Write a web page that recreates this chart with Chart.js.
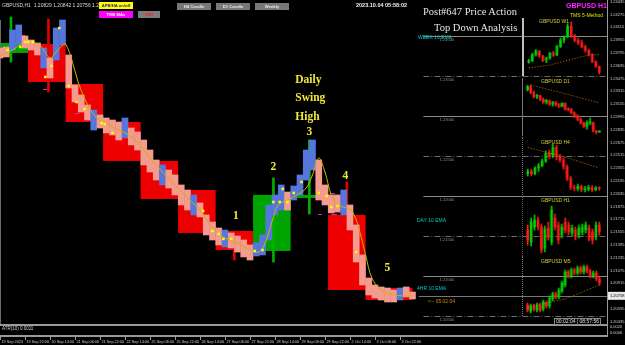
<!DOCTYPE html>
<html>
<head>
<meta charset="utf-8">
<script src="https://cdn.jsdelivr.net/npm/chart.js@4.4.0/dist/chart.umd.min.js"></script>
<style>
  html, body { margin: 0; padding: 0; background: #000; }
  #wrap { position: relative; width: 625px; height: 345px; overflow: hidden; background: #000;
          font-family: "Liberation Sans", "DejaVu Sans", sans-serif; }
  #main { position: absolute; left: 0; top: 0; }
  .mini { position: absolute; left: 522px; }
  .lbl { position: absolute; white-space: nowrap; line-height: 1; }
  .btn { position: absolute; height: 7px; line-height: 7px; text-align: center; font-size: 4.2px; font-weight: bold; overflow: hidden; }
  .serif { font-family: "Liberation Serif", "DejaVu Serif", serif; }
</style>
</head>
<body>
<div id="wrap">
  <canvas id="main" width="625" height="345"></canvas>

  <canvas class="mini" id="w1" width="84" height="58" style="top:18px;border-left:2px solid #bdbdbd;"></canvas>
  <canvas class="mini" id="d1" width="84" height="58" style="top:78px;border-left:1px solid #777;"></canvas>
  <canvas class="mini" id="h4" width="84" height="58" style="top:137px;border-left:1px dotted #777;"></canvas>
  <canvas class="mini" id="h1" width="84" height="60" style="top:196px;border-left:1px dotted #555;"></canvas>
  <canvas class="mini" id="m5" width="84" height="60" style="top:256px;border-left:1px dotted #777;"></canvas>

  <!-- top bar -->
  <div class="lbl" style="left:2px;top:3px;font-size:5px;color:#d8d8d8;">GBPUSD,H1&nbsp; 1.20829 1.20842 1.20756 1.20758</div>
  <div class="btn" style="left:99px;top:2px;width:34px;background:#ffff00;color:#1a1aa0;">APB/HA on/off</div>
  <div class="btn" style="left:99px;top:11px;width:34px;background:#ff00ff;color:#ffffff;">TMS MAs</div>
  <div class="btn" style="left:138px;top:11px;width:22px;background:#7d7d7d;color:#ff2020;">SSR</div>
  <div class="btn" style="left:177px;top:3px;width:34px;background:#777;color:#e8e8e8;">H4 Candle</div>
  <div class="btn" style="left:216px;top:3px;width:34px;background:#777;color:#e8e8e8;">D1 Candle</div>
  <div class="btn" style="left:255px;top:3px;width:34px;background:#777;color:#e8e8e8;">Weekly</div>
  <div class="lbl" style="left:356px;top:3px;font-size:5.5px;font-weight:bold;color:#f0f0f0;">2023.10.04 05:58:02</div>

  <div class="lbl serif" style="left:423px;top:7px;font-size:10.5px;color:#e6e6e6;">Post#647 Price Action</div>
  <div class="lbl serif" style="left:434px;top:23px;font-size:10.5px;color:#e6e6e6;">Top Down Analysis</div>

  <div class="lbl" style="left:566px;top:2px;font-size:7px;font-weight:bold;color:#ff22ff;">GBPUSD H1</div>
  <div class="lbl" style="left:570px;top:13px;font-size:5px;color:#e0e000;">TMS 5-Method</div>

  <!-- mini panel captions -->
  <div class="lbl" style="left:539px;top:19px;font-size:5px;color:#d4cc3a;">GBPUSD W1</div>
  <div class="lbl" style="left:541px;top:79px;font-size:5px;color:#d4cc3a;">GBPUSD D1</div>
  <div class="lbl" style="left:541px;top:140px;font-size:5px;color:#d4cc3a;">GBPUSD H4</div>
  <div class="lbl" style="left:541px;top:198px;font-size:5px;color:#d4cc3a;">GBPUSD H1</div>
  <div class="lbl" style="left:541px;top:259px;font-size:5px;color:#d4cc3a;">GBPUSD M5</div>

  <!-- EMA tags -->
  <div class="lbl" style="left:418px;top:35px;font-size:5px;color:#00c8c8;">WEEK 10 EMA</div>
  <div class="lbl" style="left:417px;top:218px;font-size:5px;color:#00c8c8;">DAY 10 EMA</div>
  <div class="lbl" style="left:417px;top:286px;font-size:5px;color:#00c8c8;">4HR 10 EMA</div>
  <div class="lbl" style="left:428px;top:299px;font-size:5px;color:#c89000;">&lt;-- 05:02:04</div>
  <div class="lbl" style="left:554px;top:318px;font-size:5px;color:#e0e0e0;border:1px solid #888;padding:0 1px;">00:02:04 | 08:57:56</div>

  <!-- ATR pane -->
  <div class="lbl" style="left:2px;top:327px;font-size:4.5px;color:#d0d0d0;">ATR(10) 0.0011</div>
  <div class="lbl" style="left:610px;top:325px;font-size:4px;color:#d0d0d0;">0.0020</div>
  <div class="lbl" style="left:610px;top:331px;font-size:4px;color:#d0d0d0;">0.0006</div>
</div>

<script>
// ---- main H1 chart data (GBPUSD) ----
// x is the bar number, 0 = 19 Sep 06:00, one bar per hour (weekend skipped)
const xTickBars = [0, 16, 32, 48, 64, 80, 96, 112, 128, 144, 160, 176, 192, 208, 224, 240, 256];
const xTickLabels = [
  "19 Sep 2023", "19 Sep 22:00", "20 Sep 14:00", "21 Sep 06:00", "21 Sep 22:00",
  "22 Sep 14:00", "25 Sep 06:00", "25 Sep 22:00", "26 Sep 14:00", "27 Sep 06:00",
  "27 Sep 22:00", "28 Sep 14:00", "29 Sep 06:00", "29 Sep 22:00", "2 Oct 14:00",
  "3 Oct 06:00", "3 Oct 22:00",
];
const priceTicks = [
  1.24435, 1.24275, 1.24115, 1.23955, 1.23795, 1.23635, 1.23475, 1.23315, 1.23155,
  1.22995, 1.22835, 1.22675, 1.22515, 1.22355, 1.22195, 1.22035, 1.21875, 1.21715,
  1.21555, 1.21395, 1.21235, 1.21075, 1.20915, 1.20595, 1.20435,
];
const currentPrice = 1.20758;

// price swings, sampled every 4 bars (open -> close of the group)
const priceBars = [0, 4, 8, 12, 16, 20, 24, 28, 32, 36, 40, 44, 48, 52, 56, 60, 64, 68, 72, 76, 80,
  84, 88, 92, 96, 100, 104, 108, 112, 116, 120, 124, 128, 132, 136, 140, 144, 148, 152, 156, 160,
  164, 168, 172, 176, 180, 184, 188, 192, 196, 200, 204, 208, 212, 216, 220, 224, 228, 232, 236,
  240, 244, 248, 252, 256, 260, 264];
const priceOpen = [1.23856, 1.23869, 1.23831, 1.23894, 1.24006, 1.23956, 1.23919, 1.23606, 1.23731,
  1.23706, 1.23894, 1.23769, 1.23394, 1.23269, 1.23144, 1.22831, 1.23019, 1.22981, 1.22956, 1.22931,
  1.22731, 1.22856, 1.22806, 1.22706, 1.22581, 1.22456, 1.22144, 1.22331, 1.22269, 1.22144, 1.22081,
  1.21769, 1.21919, 1.21769, 1.21681, 1.21606, 1.21369, 1.21544, 1.21506, 1.21456, 1.21394, 1.21256,
  1.21269, 1.21456, 1.21769, 1.21831, 1.22056, 1.21956, 1.22019, 1.22206, 1.22331, 1.22456, 1.22144,
  1.22019, 1.22019, 1.21769, 1.21894, 1.21644, 1.21269, 1.20981, 1.20894, 1.20869, 1.20856, 1.20831,
  1.20706, 1.20869, 1.20806];
const priceClose = [1.23731, 1.23744, 1.24081, 1.24144, 1.23856, 1.23831, 1.23769, 1.23856, 1.23481,
  1.24106, 1.24206, 1.23356, 1.23181, 1.23056, 1.22956, 1.23081, 1.22856, 1.22794, 1.22769, 1.22706,
  1.22981, 1.22644, 1.22581, 1.22394, 1.22306, 1.22206, 1.22394, 1.22106, 1.22019, 1.21894, 1.21831,
  1.22019, 1.21744, 1.21519, 1.21456, 1.21394, 1.21581, 1.21356, 1.21306, 1.21244, 1.21206, 1.21419,
  1.21519, 1.21894, 1.22019, 1.22144, 1.21831, 1.22131, 1.22269, 1.22581, 1.22706, 1.21956, 1.21894,
  1.21794, 1.21806, 1.22081, 1.21581, 1.21181, 1.20894, 1.20769, 1.20731, 1.20706, 1.20681, 1.20681,
  1.20856, 1.20744, 1.20719];

// 10 EMA (yellow line)
const maBars = [0, 8, 14, 20, 26, 32, 36, 40, 42, 46, 50, 54, 58, 62, 66, 72, 80, 88, 96, 104, 112,
  120, 128, 136, 144, 152, 160, 166, 170, 174, 178, 184, 190, 196, 200, 204, 208, 212, 216, 222, 226,
  230, 234, 238, 244, 252, 260, 264];
const maPrices = [1.23756, 1.23831, 1.23906, 1.23931, 1.23881, 1.23731, 1.23806, 1.23894, 1.23906,
  1.23706, 1.23431, 1.23231, 1.23081, 1.22981, 1.22931, 1.22869, 1.22794, 1.22681, 1.22481, 1.22306,
  1.22144, 1.21981, 1.21831, 1.21606, 1.21481, 1.21419, 1.21331, 1.21306, 1.21431, 1.21681, 1.21894,
  1.21956, 1.22019, 1.22106, 1.22269, 1.22481, 1.22306, 1.22019, 1.21894, 1.21856, 1.21794, 1.21581,
  1.21269, 1.20981, 1.20831, 1.20769, 1.20756, 1.20756];

// yellow signal dots
const dotBars = [5, 13, 16, 18, 21, 29, 33, 38, 44, 49, 54, 65, 67, 72, 130, 136, 140, 143, 148, 163,
  168, 175, 179, 181, 184, 188, 193, 204, 209, 212, 216, 228];
const dotPrices = [1.23831, 1.23869, 1.23931, 1.23931, 1.23931, 1.23494, 1.23631, 1.24106, 1.23381,
  1.23181, 1.23094, 1.22919, 1.22906, 1.22794, 1.21819, 1.21569, 1.21531, 1.21469, 1.21469, 1.21319,
  1.21331, 1.21931, 1.21931, 1.22094, 1.21931, 1.22044, 1.22181, 1.22044, 1.22006, 1.21869, 1.21881,
  1.21306];

// swing marker lines (g = green, r = red)
const markBars = [7, 31, 150, 175, 198, 222];
const markTop = [1.24244, 1.24219, 1.21569, 1.22231, 1.22706, 1.22181];
const markBottom = [1.23681, 1.23306, 1.21206, 1.21181, 1.21781, 1.21744];
const markKind = ["g", "r", "r", "g", "g", "r"];

// short magenta swing levels
const levelFrom = [11.5, 14, 27.5, 48, 48, 203.5, 211, 212, 217.6];
const levelTo = [16, 16.6, 30.7, 51, 51, 206, 214.4, 215.7, 219.5];
const levelPrice = [1.24019, 1.23969, 1.23344, 1.23244, 1.23044, 1.21781, 1.22044, 1.21781, 1.21906];

// daily open/close boxes
const dayStart = [0, 18, 42, 66, 90, 114, 138, 162, 186, 210, 234];
const dayEnd = [18, 42, 66, 90, 114, 138, 162, 186, 210, 234, 264];
const dayOpen = [1.23794, 1.23906, 1.23406, 1.22931, 1.22444, 1.22081, 1.21569, 1.21319, 1.21981, 1.21769, 1.20856];
const dayClose = [1.23919, 1.23431, 1.22931, 1.22444, 1.21969, 1.21544, 1.21331, 1.22019, 1.22019, 1.20831, 1.20706];

// round number levels on the right side
const roundLevels = [1.24, 1.235, 1.23, 1.225, 1.22, 1.215, 1.21, 1.205];

// swing count labels
const countText = ["1", "2", "3", "4", "5"];
const countBars = [151, 175, 198, 221, 248];
const countPrices = [1.21756, 1.22369, 1.22806, 1.22256, 1.21106];
const swingText = ["Daily", "Swing", "High"];
const swingPrices = [1.23456, 1.23231, 1.22994];
const swingBar = 189;

// ---- mini top-down panels: [open, high, low, close] ----
const w1Candles = [
  [1.2290, 1.2350, 1.2270, 1.2320], [1.2320, 1.2480, 1.2300, 1.2450], [1.2450, 1.2560, 1.2420, 1.2520],
  [1.2520, 1.2540, 1.2390, 1.2420], [1.2420, 1.2440, 1.2300, 1.2330], [1.2330, 1.2400, 1.2280, 1.2380],
  [1.2380, 1.2500, 1.2350, 1.2480], [1.2480, 1.2520, 1.2410, 1.2440], [1.2440, 1.2650, 1.2430, 1.2620],
  [1.2620, 1.2800, 1.2600, 1.2760], [1.2760, 1.2850, 1.2700, 1.2830], [1.2830, 1.3100, 1.2810, 1.3050],
  [1.3050, 1.3140, 1.2820, 1.2850], [1.2850, 1.2880, 1.2720, 1.2750], [1.2750, 1.2800, 1.2660, 1.2700],
  [1.2700, 1.2760, 1.2590, 1.2620], [1.2620, 1.2650, 1.2500, 1.2540], [1.2540, 1.2570, 1.2420, 1.2450],
  [1.2450, 1.2470, 1.2280, 1.2300], [1.2300, 1.2320, 1.2180, 1.2200], [1.2200, 1.2210, 1.2040, 1.2075],
];
const d1Candles = [
  [1.2680, 1.2740, 1.2660, 1.2720], [1.2720, 1.2745, 1.2620, 1.2640], [1.2640, 1.2660, 1.2560, 1.2580],
  [1.2580, 1.2610, 1.2550, 1.2590], [1.2590, 1.2600, 1.2520, 1.2540], [1.2540, 1.2560, 1.2480, 1.2500],
  [1.2500, 1.2540, 1.2470, 1.2520], [1.2520, 1.2530, 1.2450, 1.2470], [1.2470, 1.2510, 1.2440, 1.2490],
  [1.2490, 1.2510, 1.2440, 1.2460], [1.2460, 1.2480, 1.2420, 1.2440], [1.2440, 1.2490, 1.2430, 1.2480],
  [1.2480, 1.2490, 1.2380, 1.2400], [1.2400, 1.2420, 1.2370, 1.2390], [1.2390, 1.2410, 1.2330, 1.2345],
  [1.2345, 1.2360, 1.2280, 1.2300], [1.2300, 1.2320, 1.2230, 1.2250], [1.2250, 1.2270, 1.2180, 1.2200],
  [1.2200, 1.2210, 1.2130, 1.2150], [1.2150, 1.2230, 1.2110, 1.2200], [1.2200, 1.2270, 1.2170, 1.2205],
  [1.2205, 1.2210, 1.2070, 1.2080], [1.2080, 1.2090, 1.2040, 1.2070], [1.2070, 1.2085, 1.2060, 1.2075],
];
const h4Candles = [
  [1.2140, 1.2160, 1.2130, 1.2150], [1.2150, 1.2160, 1.2130, 1.2140], [1.2140, 1.2170, 1.2135, 1.2165],
  [1.2165, 1.2185, 1.2150, 1.2175], [1.2175, 1.2205, 1.2170, 1.2195], [1.2195, 1.2240, 1.2190, 1.2230],
  [1.2230, 1.2245, 1.2205, 1.2215], [1.2215, 1.2270, 1.2210, 1.2255], [1.2255, 1.2265, 1.2200, 1.2215],
  [1.2215, 1.2225, 1.2190, 1.2200], [1.2200, 1.2210, 1.2160, 1.2170], [1.2170, 1.2180, 1.2110, 1.2120],
  [1.2120, 1.2130, 1.2070, 1.2080], [1.2080, 1.2090, 1.2065, 1.2075], [1.2075, 1.2095, 1.2065, 1.2085],
  [1.2085, 1.2090, 1.2060, 1.2070], [1.2070, 1.2085, 1.2060, 1.2072], [1.2072, 1.2090, 1.2065, 1.2080],
  [1.2080, 1.2088, 1.2062, 1.2070], [1.2070, 1.2085, 1.2065, 1.2078], [1.2078, 1.2083, 1.2068, 1.2075],
];
const h1Candles = [
  [1.2080, 1.2085, 1.2065, 1.2070], [1.2068, 1.2092, 1.2064, 1.2088], [1.2083, 1.2095, 1.2080, 1.2090],
  [1.2090, 1.2093, 1.2080, 1.2083], [1.2083, 1.2086, 1.2057, 1.2060], [1.2062, 1.2084, 1.2058, 1.2081],
  [1.2082, 1.2088, 1.2070, 1.2073], [1.2068, 1.2104, 1.2065, 1.2100], [1.2092, 1.2096, 1.2080, 1.2083],
  [1.2085, 1.2088, 1.2066, 1.2070], [1.2075, 1.2086, 1.2072, 1.2083], [1.2088, 1.2092, 1.2077, 1.2080],
  [1.2085, 1.2088, 1.2075, 1.2078], [1.2077, 1.2085, 1.2074, 1.2082], [1.2080, 1.2083, 1.2070, 1.2073],
  [1.2075, 1.2085, 1.2072, 1.2082], [1.2078, 1.2086, 1.2075, 1.2083], [1.2080, 1.2088, 1.2077, 1.2085],
  [1.2082, 1.2085, 1.2069, 1.2072], [1.2078, 1.2081, 1.2066, 1.2070], [1.2073, 1.2088, 1.2070, 1.2085],
  [1.2085, 1.2088, 1.2075, 1.2078],
];
const m5Candles = [
  [1.20800, 1.20810, 1.20765, 1.20775], [1.20770, 1.20805, 1.20760, 1.20795], [1.20795, 1.20805, 1.20770, 1.20780],
  [1.20775, 1.20810, 1.20765, 1.20800], [1.20800, 1.20810, 1.20765, 1.20775], [1.20780, 1.20825, 1.20770, 1.20815],
  [1.20810, 1.20820, 1.20785, 1.20795], [1.20795, 1.20845, 1.20785, 1.20835], [1.20830, 1.20865, 1.20820, 1.20855],
  [1.20855, 1.20865, 1.20830, 1.20840], [1.20840, 1.20885, 1.20830, 1.20875], [1.20870, 1.20920, 1.20860, 1.20910],
  [1.20900, 1.20975, 1.20890, 1.20965], [1.20965, 1.20975, 1.20935, 1.20945], [1.20945, 1.20985, 1.20935, 1.20975],
  [1.20975, 1.20985, 1.20950, 1.20960], [1.20960, 1.20995, 1.20950, 1.20985], [1.20985, 1.20995, 1.20955, 1.20965],
  [1.20965, 1.21000, 1.20955, 1.20990], [1.20990, 1.21000, 1.20960, 1.20970], [1.20970, 1.20980, 1.20935, 1.20945],
  [1.20945, 1.20970, 1.20935, 1.20960], [1.20960, 1.20970, 1.20920, 1.20930], [1.20930, 1.20940, 1.20900, 1.20910],
];
// slow MA (orange dotted) in the mini panels: [candle index, price]
const w1Slow = [[0, 1.2170], [6, 1.2230], [12, 1.2350], [17, 1.2440], [20, 1.2450]];
const d1Slow = [[1, 1.2745], [12, 1.2620], [23, 1.2486]];
const h4Slow = [[0, 1.2255], [10, 1.2215], [20, 1.2165]];
const h1Slow = [];
const m5Slow = [[0, 1.20790], [12, 1.20830], [23, 1.20900]];

Chart.defaults.animation = false;
Chart.defaults.font.family = "'Liberation Sans', 'DejaVu Sans', sans-serif";
Chart.defaults.color = "#d0d0d0";

const RED = "#ee0000";
const GREEN = "#00a400";
const AXIS_FONT = "4px 'Liberation Sans', 'DejaVu Sans', sans-serif";

// boxes, round levels and bid line go under the candles
const underlayPlugin = {
  id: "underlay",
  beforeDatasetsDraw(chart) {
    const { ctx, chartArea } = chart;
    const x = chart.scales.x, y = chart.scales.y;
    ctx.save();
    dayStart.forEach((s, i) => {
      const x0 = x.getPixelForValue(s);
      const x1 = x.getPixelForValue(dayEnd[i]);
      const y0 = y.getPixelForValue(Math.max(dayOpen[i], dayClose[i]));
      const y1 = y.getPixelForValue(Math.min(dayOpen[i], dayClose[i]));
      ctx.fillStyle = dayClose[i] >= dayOpen[i] ? GREEN : RED;
      ctx.fillRect(x0, y0, x1 - x0, Math.max(y1 - y0, 3));
    });

    // round numbers
    const lx = x.getPixelForValue(271);
    ctx.font = AXIS_FONT;
    ctx.textAlign = "center";
    ctx.textBaseline = "top";
    roundLevels.forEach((lv, i) => {
      const py = Math.round(y.getPixelForValue(lv)) + 0.5;
      ctx.strokeStyle = i % 2 === 0 ? "#8a8a8a" : "#6a6a6a";
      ctx.lineWidth = 1;
      ctx.setLineDash(i % 2 === 0 ? [] : [6, 2, 1, 2]);
      ctx.beginPath();
      ctx.moveTo(lx, py);
      ctx.lineTo(chartArea.right, py);
      ctx.stroke();
      ctx.fillStyle = "#8c8c8c";
      ctx.fillText(lv.toFixed(5), x.getPixelForValue(286), py + 1);
    });
    ctx.setLineDash([]);

    // bid line
    const by = Math.round(y.getPixelForValue(currentPrice)) + 0.5;
    ctx.strokeStyle = "#777";
    ctx.beginPath();
    ctx.moveTo(x.getPixelForValue(268), by);
    ctx.lineTo(chartArea.right, by);
    ctx.stroke();

    // magenta swing levels
    ctx.strokeStyle = "#d0309a";
    levelFrom.forEach((f, i) => {
      const py = Math.round(y.getPixelForValue(levelPrice[i])) + 0.5;
      ctx.beginPath();
      ctx.moveTo(x.getPixelForValue(f), py);
      ctx.lineTo(x.getPixelForValue(levelTo[i]), py);
      ctx.stroke();
    });

    // left border of the chart window
    ctx.fillStyle = "#6a6a6a";
    ctx.fillRect(0, 20, 1, chartArea.bottom - 20);
    ctx.restore();
  },
  afterDraw(chart) {
    const { ctx, chartArea } = chart;
    const x = chart.scales.x, y = chart.scales.y;
    ctx.save();
    ctx.fillStyle = "#eeea38";
    ctx.font = "bold 11.5px 'Liberation Serif'";
    ctx.textBaseline = "middle";
    ctx.textAlign = "center";
    countText.forEach((t, i) => {
      ctx.fillText(t, x.getPixelForValue(countBars[i]), y.getPixelForValue(countPrices[i]));
    });
    ctx.textAlign = "left";
    swingText.forEach((t, i) => {
      ctx.fillText(t, x.getPixelForValue(swingBar), y.getPixelForValue(swingPrices[i]));
    });

    // price axis labels (scale is hidden, labels placed through it)
    ctx.font = AXIS_FONT;
    ctx.fillStyle = "#cfcfcf";
    priceTicks.forEach((p) => {
      ctx.fillText(p.toFixed(5), chartArea.right + 3, y.getPixelForValue(p));
    });
    // time axis labels
    ctx.font = "3.8px 'Liberation Sans', 'DejaVu Sans', sans-serif";
    xTickBars.forEach((b, i) => {
      ctx.fillText(xTickLabels[i], x.getPixelForValue(b) + 1.5, 342);
    });

    // current price tag on the axis
    const cy = y.getPixelForValue(currentPrice);
    ctx.fillStyle = "#e8e8e8";
    ctx.fillRect(chartArea.right + 1, cy - 4, 17, 8);
    ctx.fillStyle = "#000";
    ctx.font = AXIS_FONT;
    ctx.fillText(currentPrice.toFixed(5), chartArea.right + 3, cy);

    // indicator pane borders
    ctx.fillStyle = "#9a9a9a";
    ctx.fillRect(0, chartArea.bottom, chartArea.right + 1, 2);
    ctx.fillRect(0, 335, chartArea.right + 1, 2);
    ctx.fillRect(chartArea.right, 0, 1, 337);
    // x tick marks
    xTickBars.forEach((b) => {
      ctx.fillRect(Math.round(x.getPixelForValue(b)), 337, 1, 3);
    });
    ctx.restore();
  },
};

new Chart(document.getElementById("main"), {
  type: "bar",
  data: {
    datasets: [
      {
        type: "line",
        label: "EMA 10",
        data: maBars.map((b, i) => ({ x: b, y: maPrices[i] })),
        borderColor: "#c8b400",
        borderWidth: 1,
        pointRadius: 0,
        tension: 0.35,
        order: 1,
      },
      {
        type: "line",
        label: "signals",
        data: dotBars.map((b, i) => ({ x: b, y: dotPrices[i] })),
        showLine: false,
        pointStyle: "rect",
        pointRadius: 1.8,
        pointBackgroundColor: "#ffff00",
        pointBorderWidth: 0,
        order: 0,
      },
      {
        label: "markers",
        data: markBars.map((b, i) => ({ x: b, y: [markBottom[i], markTop[i]] })),
        backgroundColor: markKind.map((k) => (k === "g" ? "#00b000" : "#e00000")),
        barThickness: 2,
        grouped: false,
        order: 3,
      },
      {
        label: "GBPUSD",
        data: priceBars.map((b, i) => ({ x: b, y: [priceOpen[i], priceClose[i]] })),
        backgroundColor: priceBars.map((b, i) => (priceClose[i] >= priceOpen[i] ? "#5577dd" : "#f49a8e")),
        barThickness: 6,
        grouped: false,
        order: 2,
      },
    ],
  },
  options: {
    responsive: false,
    events: [],
    layout: { padding: { left: 0, top: 0, right: 18, bottom: 21 }, autoPadding: false },
    plugins: { legend: { display: false }, tooltip: { enabled: false } },
    scales: {
      x: { type: "linear", display: false, min: 0, max: 388.5, offset: false },
      y: { display: false, min: 1.20406, max: 1.24456 },
    },
  },
  plugins: [underlayPlugin],
});

// ---- mini charts ----
function miniChart(id, candles, slow, yMin, yMax) {
  const colors = candles.map((c) => (c[3] >= c[0] ? "#00d000" : "#ff1a1a"));
  new Chart(document.getElementById(id), {
    type: "bar",
    data: {
      labels: candles.map((c, i) => i),
      datasets: [
        { type: "line", data: slow.map((s) => ({ x: s[0], y: s[1] })), borderColor: "#c88a00",
          borderWidth: 1, borderDash: [1, 2], pointRadius: 0 },
        { data: candles.map((c) => [c[2], c[1]]), backgroundColor: colors, barThickness: 1, grouped: false },
        { data: candles.map((c) => [c[0], c[3]]), backgroundColor: colors, barThickness: 2, grouped: false,
          minBarLength: 1 },
      ],
    },
    options: {
      responsive: false,
      events: [],
      layout: { padding: { left: 3, right: 5, top: 0, bottom: 0 } },
      plugins: { legend: { display: false }, tooltip: { enabled: false } },
      scales: {
        x: { display: false },
        y: { display: false, min: yMin, max: yMax },
      },
    },
  });
}

miniChart("w1", w1Candles, w1Slow, 1.1998, 1.3225);
miniChart("d1", d1Candles, d1Slow, 1.2011, 1.2846);
miniChart("h4", h4Candles, h4Slow, 1.2047, 1.2301);
miniChart("h1", h1Candles, h1Slow, 1.2054, 1.2114);
miniChart("m5", m5Candles, m5Slow, 1.20745, 1.21045);
</script>
</body>
</html>
